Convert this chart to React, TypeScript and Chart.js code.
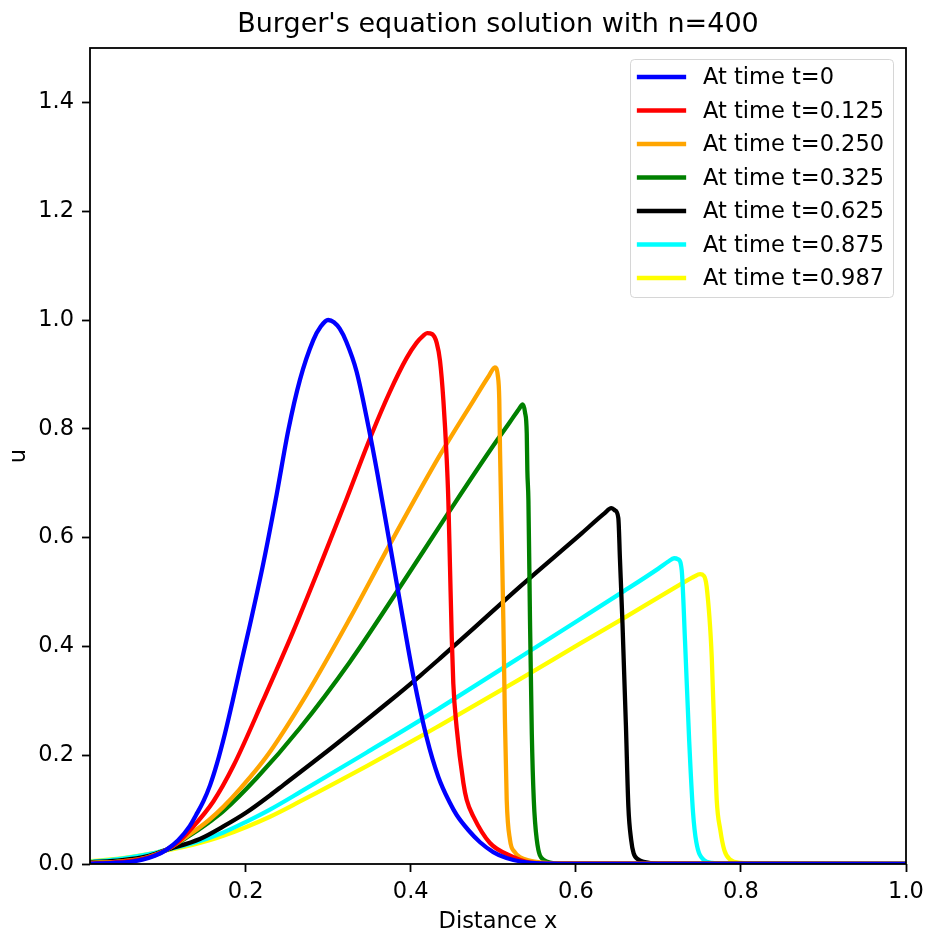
import React, { useEffect, useRef } from "react";
import { Chart, registerables } from "chart.js";

Chart.register(...registerables);

const TITLE = "Burger's equation solution with n=400";
const X_LABEL = "Distance x";
const Y_LABEL = "u";
const X_MIN = 0.0115;
const X_MAX = 1.0;
const Y_MIN = 0;
const Y_MAX = 1.5;
const X_TICKS = [0.2, 0.4, 0.6, 0.8, 1.0];
const Y_TICKS = [0.0, 0.2, 0.4, 0.6, 0.8, 1.0, 1.2, 1.4];

const SERIES_LABELS = [
  "At time t=0",
  "At time t=0.125",
  "At time t=0.250",
  "At time t=0.325",
  "At time t=0.625",
  "At time t=0.875",
  "At time t=0.987",
];
const SERIES_COLORS = ["#0000ff", "#ff0000", "#ffa500", "#008000", "#000000", "#00ffff", "#ffff00"];

const blueX = [0.0115, 0.04, 0.06, 0.075, 0.09, 0.104, 0.118, 0.1325, 0.14, 0.1488, 0.157, 0.165, 0.175, 0.1851, 0.195, 0.2053, 0.2215, 0.2377, 0.2518, 0.2658, 0.282, 0.291, 0.3, 0.307, 0.314, 0.322, 0.3345, 0.3487, 0.36, 0.371, 0.387, 0.4032, 0.4194, 0.4335, 0.4476, 0.4557, 0.47, 0.484, 0.5, 0.516, 0.54, 0.57, 0.6, 1.0];
const blueU = [0.0005, 0.002, 0.004, 0.008, 0.015, 0.026, 0.043, 0.07, 0.09, 0.115, 0.145, 0.183, 0.24, 0.305, 0.372, 0.44, 0.553, 0.68, 0.798, 0.89, 0.963, 0.988, 1.0, 0.996, 0.984, 0.96, 0.905, 0.805, 0.715, 0.62, 0.482, 0.345, 0.232, 0.16, 0.112, 0.09, 0.062, 0.04, 0.022, 0.011, 0.003, 0.0005, 0, 0];

const redX = [0.0115, 0.04, 0.07, 0.09, 0.104, 0.118, 0.1325, 0.1609, 0.1851, 0.2215, 0.2578, 0.2901, 0.3225, 0.3527, 0.3747, 0.395, 0.407, 0.415, 0.42, 0.426, 0.4315, 0.4355, 0.4396, 0.4436, 0.4456, 0.4476, 0.4497, 0.4516, 0.4557, 0.4638, 0.4678, 0.476, 0.496, 0.524, 0.54, 0.57, 1.0];
const redU = [0.001, 0.003, 0.008, 0.016, 0.026, 0.04, 0.062, 0.115, 0.18, 0.302, 0.428, 0.548, 0.672, 0.79, 0.868, 0.93, 0.958, 0.971, 0.976, 0.974, 0.958, 0.925, 0.852, 0.745, 0.668, 0.546, 0.418, 0.332, 0.25, 0.149, 0.118, 0.087, 0.0385, 0.013, 0.004, 0.0005, 0];

const orangeX = [0.0115, 0.05, 0.08, 0.104, 0.13, 0.155, 0.173, 0.1932, 0.2256, 0.274, 0.3265, 0.3749, 0.4355, 0.476, 0.495, 0.502, 0.5055, 0.5073, 0.5082, 0.5102, 0.5122, 0.5142, 0.5163, 0.5203, 0.526, 0.532, 0.545, 0.557, 0.58, 1.0];
const orangeU = [0.002, 0.005, 0.012, 0.026, 0.052, 0.08, 0.105, 0.138, 0.198, 0.312, 0.452, 0.588, 0.752, 0.852, 0.898, 0.913, 0.898, 0.853, 0.76, 0.608, 0.45, 0.26, 0.118, 0.044, 0.022, 0.013, 0.006, 0.003, 0.0005, 0];

const greenX = [0.0115, 0.05, 0.08, 0.104, 0.13, 0.155, 0.173, 0.2134, 0.2659, 0.3265, 0.383, 0.4355, 0.4476, 0.496, 0.52, 0.531, 0.5358, 0.5385, 0.5406, 0.5413, 0.5426, 0.5445, 0.5467, 0.5491, 0.5527, 0.5607, 0.58, 1.0];
const greenU = [0.002, 0.005, 0.012, 0.026, 0.05, 0.076, 0.097, 0.158, 0.25, 0.372, 0.5, 0.622, 0.65, 0.76, 0.812, 0.836, 0.845, 0.83, 0.791, 0.724, 0.668, 0.45, 0.24, 0.118, 0.045, 0.008, 0.001, 0];

const blackX = [0.0115, 0.05, 0.08, 0.104, 0.1446, 0.173, 0.2013, 0.2295, 0.2457, 0.3062, 0.3709, 0.4113, 0.4355, 0.4718, 0.5324, 0.605, 0.635, 0.643, 0.6475, 0.6515, 0.6535, 0.6566, 0.6607, 0.6637, 0.667, 0.67, 0.676, 0.682, 0.7, 1.0];
const blackU = [0.003, 0.007, 0.014, 0.026, 0.046, 0.069, 0.095, 0.126, 0.145, 0.216, 0.295, 0.346, 0.378, 0.427, 0.51, 0.605, 0.645, 0.654, 0.65, 0.636, 0.56, 0.44, 0.255, 0.105, 0.045, 0.02, 0.008, 0.004, 0.0005, 0];

const cyanX = [0.0115, 0.05, 0.092, 0.104, 0.14, 0.173, 0.2012, 0.2295, 0.2659, 0.3467, 0.4113, 0.4355, 0.5324, 0.605, 0.6535, 0.7, 0.712, 0.719, 0.724, 0.7283, 0.7323, 0.7374, 0.742, 0.746, 0.7547, 0.765, 0.78, 1.0];
const cyanU = [0.004, 0.01, 0.021, 0.026, 0.04, 0.058, 0.078, 0.1, 0.132, 0.205, 0.264, 0.287, 0.38, 0.45, 0.497, 0.543, 0.556, 0.562, 0.56, 0.54, 0.41, 0.225, 0.095, 0.04, 0.008, 0.002, 0.0005, 0];

const yellowX = [0.0115, 0.0516, 0.092, 0.104, 0.14, 0.173, 0.2295, 0.2659, 0.3467, 0.4113, 0.4355, 0.5324, 0.605, 0.6535, 0.72, 0.743, 0.7505, 0.755, 0.7585, 0.7647, 0.7688, 0.7707, 0.775, 0.78, 0.787, 0.8, 0.82, 1.0];
const yellowU = [0.005, 0.011, 0.021, 0.025, 0.037, 0.052, 0.087, 0.115, 0.18, 0.234, 0.255, 0.34, 0.405, 0.448, 0.508, 0.528, 0.533, 0.53, 0.51, 0.38, 0.195, 0.118, 0.063, 0.025, 0.008, 0.002, 0.0005, 0];

const SERIES_X = [blueX, redX, orangeX, greenX, blackX, cyanX, yellowX];
const SERIES_U = [blueU, redU, orangeU, greenU, blackU, cyanU, yellowU];

const FONT = "DejaVu Sans";
const LINE_W = 4.3;

const decorPlugin = {
  id: "decor",
  afterDatasetsDraw(chart: any) {
    const { ctx, chartArea } = chart;
    const { left, right, top, bottom } = chartArea;
    ctx.save();
    ctx.strokeStyle = "#000";
    ctx.lineWidth = 1.8;
    ctx.strokeRect(left, top, right - left, bottom - top);

    const lx = 630.5, ly = 59.5, lw = 263, lh = 238;
    ctx.beginPath();
    (ctx as any).roundRect(lx, ly, lw, lh, 4);
    ctx.fillStyle = "rgba(255,255,255,0.8)";
    ctx.fill();
    ctx.strokeStyle = "rgba(204,204,204,0.8)";
    ctx.lineWidth = 1;
    ctx.stroke();
    ctx.font = `22.5px "${FONT}"`;
    ctx.textAlign = "left";
    ctx.textBaseline = "middle";
    chart.data.datasets.forEach((ds: any, i: number) => {
      const ry = 77 + i * 33.5;
      ctx.beginPath();
      ctx.strokeStyle = ds.borderColor;
      ctx.lineWidth = LINE_W;
      ctx.lineCap = "square";
      ctx.moveTo(639, ry);
      ctx.lineTo(684, ry);
      ctx.stroke();
      ctx.fillStyle = "#000";
      ctx.fillText(ds.label, 703, ry + 1.5);
    });
    ctx.restore();
  },
  afterDraw(chart: any) {
    const { ctx, chartArea } = chart;
    const cx = (chartArea.left + chartArea.right) / 2;
    ctx.save();
    ctx.fillStyle = "#000";
    ctx.textAlign = "center";
    ctx.textBaseline = "middle";
    ctx.font = `27px "${FONT}"`;
    ctx.fillText(TITLE, cx, 25);
    ctx.font = `22.5px "${FONT}"`;
    ctx.fillText(X_LABEL, cx, 922);
    ctx.translate(19, (chartArea.top + chartArea.bottom) / 2);
    ctx.rotate(-Math.PI / 2);
    ctx.fillText(Y_LABEL, 0, 0);
    ctx.restore();
  },
};

export default function App() {
  const ref = useRef<HTMLCanvasElement | null>(null);
  useEffect(() => {
    document.body.style.margin = "0";
    const canvas = ref.current;
    if (!canvas) return;
    const datasets = SERIES_LABELS.map((label, i) => ({
      label,
      data: SERIES_X[i].map((x, j) => ({ x, y: SERIES_U[i][j] })),
      borderColor: SERIES_COLORS[i],
      backgroundColor: SERIES_COLORS[i],
      borderWidth: LINE_W,
      pointRadius: 0,
      pointHoverRadius: 0,
      fill: false,
      cubicInterpolationMode: "monotone" as const,
      borderJoinStyle: "round" as const,
      borderCapStyle: "round" as const,
      clip: 0,
    }));
    const tickFont = { family: FONT, size: 22.5 };
    const chart = new Chart(canvas, {
      type: "line",
      data: { datasets },
      plugins: [decorPlugin],
      options: {
        animation: false,
        responsive: false,
        devicePixelRatio: 1,
        parsing: false,
        normalized: true,
        events: [],
        layout: { padding: { top: 48, right: 20, left: 0, bottom: 0 } },
        plugins: {
          legend: { display: false },
          title: { display: false },
          tooltip: { enabled: false },
        },
        scales: {
          x: {
            type: "linear",
            min: X_MIN,
            max: X_MAX,
            afterBuildTicks: (s: any) => {
              s.ticks = X_TICKS.map((v) => ({ value: v }));
            },
            afterFit: (s: any) => {
              s.height = 69;
              s.paddingLeft = 0;
              s.paddingRight = 0;
            },
            grid: {
              drawOnChartArea: false,
              drawTicks: true,
              tickLength: 8,
              tickWidth: 1.8,
              tickColor: "#000",
            },
            border: { display: false },
            ticks: {
              font: tickFont,
              color: "#000",
              padding: 7,
              maxRotation: 0,
              autoSkip: false,
              callback: (v: any) => Number(v).toFixed(1),
            },
          },
          y: {
            type: "linear",
            min: Y_MIN,
            max: Y_MAX,
            afterBuildTicks: (s: any) => {
              s.ticks = Y_TICKS.map((v) => ({ value: v }));
            },
            afterFit: (s: any) => {
              s.width = 90;
              s.paddingTop = 0;
              s.paddingBottom = 0;
            },
            grid: {
              drawOnChartArea: false,
              drawTicks: true,
              tickLength: 8,
              tickWidth: 1.8,
              tickColor: "#000",
            },
            border: { display: false },
            ticks: {
              font: tickFont,
              color: "#000",
              padding: 8,
              autoSkip: false,
              callback: (v: any) => Number(v).toFixed(1),
            },
          },
        },
      },
    });
    return () => chart.destroy();
  }, []);
  return (
    <div style={{ position: "absolute", left: 0, top: 0, width: 926, height: 933, background: "#fff" }}>
      <canvas ref={ref} width={926} height={933} style={{ display: "block", width: 926, height: 933 }} />
    </div>
  );
}
